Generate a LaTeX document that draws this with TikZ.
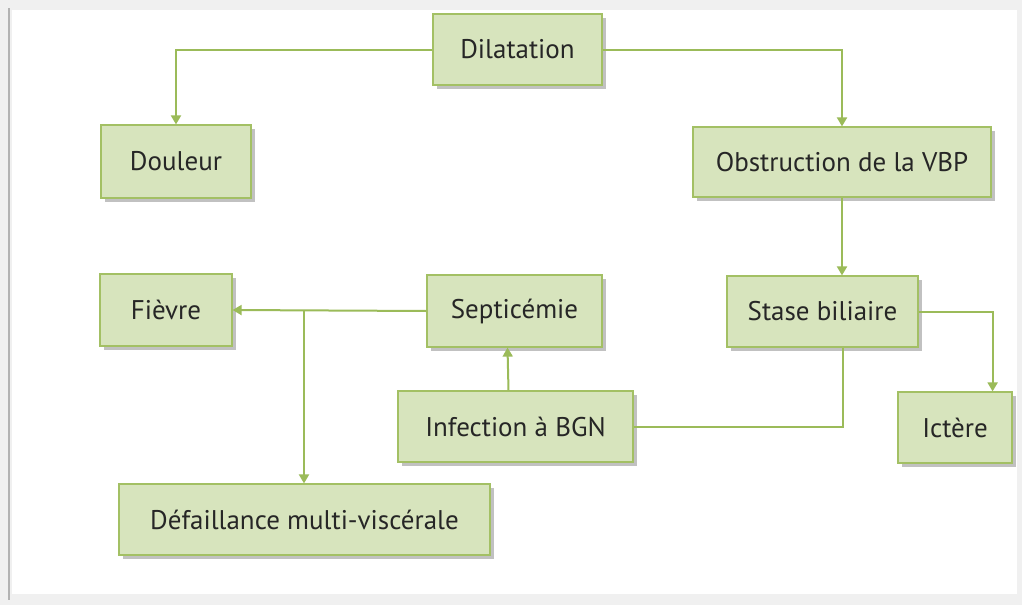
\documentclass[tikz,border=0pt]{standalone}
\usepackage{fontspec}
\setmainfont{PT Sans}
\usetikzlibrary{arrows.meta,shadows,calc}
\definecolor{boxfill}{HTML}{D7E4BD}
\definecolor{boxline}{HTML}{A3C064}
\definecolor{conn}{HTML}{9BBB59}
\definecolor{txt}{HTML}{262626}
\tikzset{
  blk/.style={draw=boxline, line width=1.2pt, fill=boxfill, text=txt,
    font=\fontsize{27}{29}\selectfont,
    drop shadow={shadow xshift=4pt, shadow yshift=-4pt, fill=black!40, opacity=0.6}},
  link/.style={draw=conn, line width=2pt},
  arr/.style={link, -{Triangle[length=9pt,width=10pt]}},
}
\newcommand{\blknode}[6]{% name, x1, y1, x2, y2, text
  \node[blk, minimum width={#4-#2}, minimum height={#5-#3}, inner sep=0pt] (#1) at ({(#2+#4)/2},{(#3+#5)/2}) {#6};}
\begin{document}
\begin{tikzpicture}[x=1pt,y=-1pt]
\useasboundingbox (0,0) rectangle (1022,605);
\fill[black!6] (0,0) rectangle (1022,605);
\fill[white] (12,10) rectangle (1017,594);
\draw[black!30, line width=2pt] (9,8) -- (9,600);
\blknode{dil}{433}{14}{602}{85}{Dilatation}
\blknode{dou}{101}{125}{251}{198}{Douleur}
\blknode{obs}{693}{127}{991}{197}{Obstruction de la VBP}
\blknode{fie}{100}{274}{232}{346}{Fièvre}
\blknode{sep}{427}{275}{602}{347}{Septicémie}
\blknode{sta}{727}{276}{918}{347}{Stase biliaire}
\blknode{inf}{398}{391}{633}{462}{Infection à BGN}
\blknode{ict}{898}{392}{1012}{463}{Ictère}
\blknode{def}{119}{484}{490}{555}{Défaillance multi-viscérale}
\coordinate (j) at (304,311);
\draw[arr] (dil.west) -| (dou.north);
\draw[arr] (dil.east) -| (obs.north);
\draw[arr] (obs.south) -- (obs.south |- sta.north);
\draw[arr] (sta.east) -| ($(ict.north east)+(-20,0)$);
\draw[link] (inf.east) -| ($(sta.south)+(20,0)$);
\draw[arr] ($(inf.north)+(-7,0)$) -- ($(sep.south)+(-7,0)$);
\draw[arr] (sep.west) -- (fie.east);
\draw[arr] (j) -- (j |- def.north);
\end{tikzpicture}
\end{document}
